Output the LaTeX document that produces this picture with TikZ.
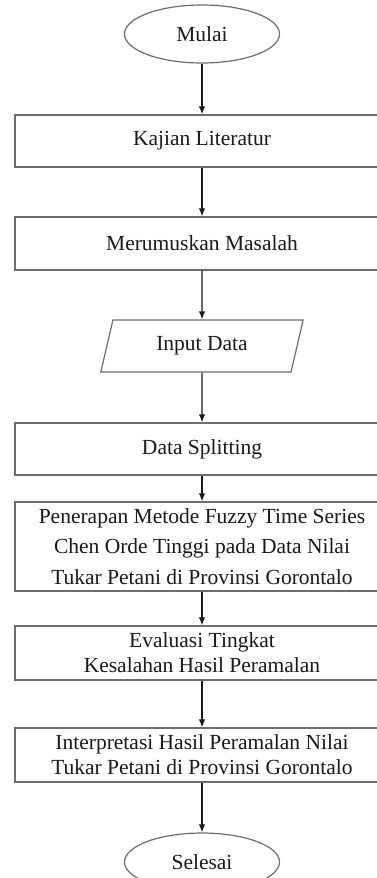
\documentclass[tikz,border=0pt]{standalone}
\usepackage{fontspec}
\setmainfont{Liberation Serif}
\usetikzlibrary{positioning,arrows.meta,shapes.geometric}
\definecolor{ink}{HTML}{1a1a1a}
\definecolor{ink2}{HTML}{6e6e6e}
\tikzset{
  blk/.style={draw=ink2,line width=0.6pt,fill=white,align=center,text=ink,font=\fontsize{10.75}{12.5}\selectfont,inner sep=1pt,minimum width=187pt,minimum height=26pt},
  term/.style={blk,ellipse,minimum width=77.5pt,minimum height=29pt,inner sep=0pt},
  io/.style={blk,trapezium,trapezium left angle=74,trapezium right angle=106,trapezium stretches=true,minimum width=101.5pt,minimum height=26pt},
  arr/.style={-{Latex[length=4pt,width=3.2pt]},line width=0.6pt,draw=ink},
}
\begin{document}
\begin{tikzpicture}
\useasboundingbox (0,0) rectangle (188pt,-439pt);
\node[term] (mul) at (101pt,-17pt) {Mulai};
\node[blk,below=25.4pt of mul] (kaj) {Kajian Literatur};
\node[blk,below=24.4pt of kaj,minimum height=26.5pt] (mas) {Merumuskan Masalah};
\node[io,below=24.4pt of mas] (inp) {Input Data};
\node[blk,below=24.9pt of inp] (spl) {Data Splitting};
\node[blk,below=12.9pt of spl,minimum height=44.5pt,font=\fontsize{10.75}{15.2}\selectfont] (fts) {Penerapan Metode Fuzzy Time Series\\Chen Orde Tinggi pada Data Nilai\\Tukar Petani di Provinsi Gorontalo};
\node[blk,below=16.9pt of fts,minimum height=27pt] (eva) {Evaluasi Tingkat\\Kesalahan Hasil Peramalan};
\node[blk,below=23.4pt of eva,minimum height=27pt] (itp) {Interpretasi Hasil Peramalan Nilai\\Tukar Petani di Provinsi Gorontalo};
\node[term,below=24.9pt of itp] (sel) {Selesai};
\draw[arr] (mul)--(kaj); \draw[arr] (kaj)--(mas); \draw[arr] (mas)--(inp); \draw[arr] (inp)--(spl);
\draw[arr] (spl)--(fts); \draw[arr] (fts)--(eva); \draw[arr] (eva)--(itp); \draw[arr] (itp)--(sel);
\end{tikzpicture}
\end{document}
